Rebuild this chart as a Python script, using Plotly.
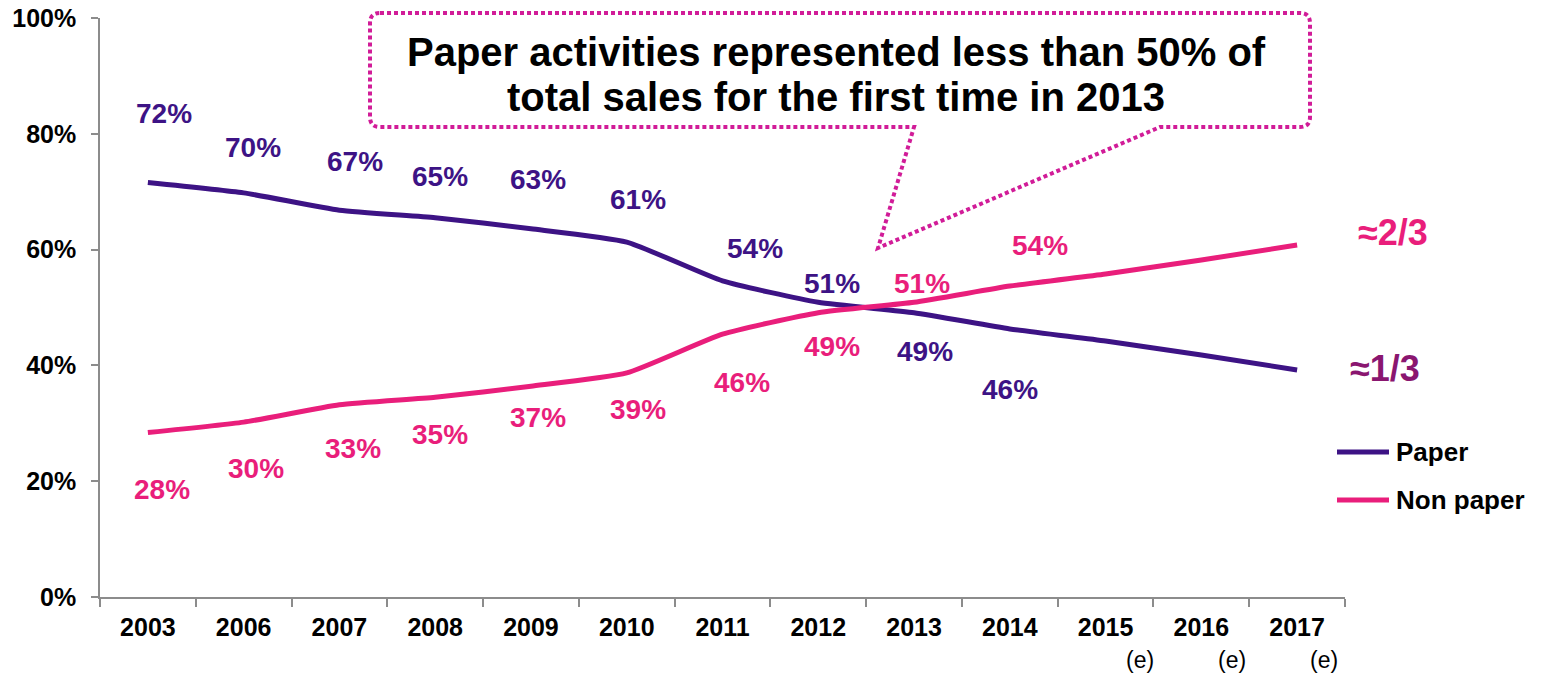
import plotly.graph_objects as go

# ---------------- data ----------------
years = ["2003", "2006", "2007", "2008", "2009", "2010", "2011",
         "2012", "2013", "2014", "2015", "2016", "2017"]
paper = [71.6, 69.8, 66.8, 65.5, 63.6, 61.3, 54.6, 50.9, 49.1, 46.3, 44.2, 41.8, 39.2]
non_paper = [28.4, 30.2, 33.2, 34.5, 36.4, 38.7, 45.4, 49.1, 50.9, 53.7, 55.8, 58.2, 60.8]
paper_labels = ["72%", "70%", "67%", "65%", "63%", "61%", "54%", "51%", "49%", "46%", "", "", ""]
non_paper_labels = ["28%", "30%", "33%", "35%", "37%", "39%", "46%", "49%", "51%", "54%", "", "", ""]
estimate_years = ["2015", "2016", "2017"]
series_names = ["Paper", "Non paper"]
callout_lines = ["Paper activities represented less than 50% of",
                 "total sales for the first time in 2013"]
share_paper_text = "≈1/3"
share_non_paper_text = "≈2/3"

# ---------------- style ----------------
PAPER_C = "#3D1385"
NONPAPER_C = "#E91E7B"
THIRD_C = "#8A1670"
CALLOUT_C = "#D11C98"
AXIS_C = "#8C8C8C"
FONT = "Liberation Sans"
# label offsets (pixels) relative to their point
paper_dx = [16, 9, 16, 5, 7, 11, 32, 14, 11, 0, 0, 0, 0]
paper_dy = [69, 45, 49, 41, 49, 43, 32, 19, -39, -61, 0, 0, 0]
non_dx = [14, 12, 14, 5, 7, 11, 19, 14, 8, 30, 0, 0, 0]
non_dy = [-57, -46, -44, -37, -31, -37, -48, -34, 19, 41, 0, 0, 0]
est_dx = [34, 31, 27]

W, H = 1549, 677
ML, MR, MT, MB = 100, 204, 18, 80
PW, PH = W - ML - MR, H - MT - MB


def px(x):
    return (x - ML) / PW


def py(y):
    return (H - MB - y) / PH


fig = go.Figure()
fig.add_trace(go.Scatter(x=years, y=paper, mode="lines", name=series_names[0],
                         line=dict(color=PAPER_C, width=5, shape="spline", smoothing=0.5),
                         hoverinfo="skip", showlegend=False))
fig.add_trace(go.Scatter(x=years, y=non_paper, mode="lines", name=series_names[1],
                         line=dict(color=NONPAPER_C, width=5, shape="spline", smoothing=0.5),
                         hoverinfo="skip", showlegend=False))

annotations = []
for i, yr in enumerate(years):
    if paper_labels[i]:
        annotations.append(dict(x=i, y=paper[i], xref="x", yref="y", text=paper_labels[i],
                                showarrow=False, xshift=paper_dx[i], yshift=paper_dy[i],
                                xanchor="center", yanchor="middle",
                                font=dict(family=FONT, size=28, color=PAPER_C, weight="bold")))
    if non_paper_labels[i]:
        annotations.append(dict(x=i, y=non_paper[i], xref="x", yref="y", text=non_paper_labels[i],
                                showarrow=False, xshift=non_dx[i], yshift=non_dy[i],
                                xanchor="center", yanchor="middle",
                                font=dict(family=FONT, size=28, color=NONPAPER_C, weight="bold")))

for k, yr in enumerate(estimate_years):
    annotations.append(dict(x=years.index(yr), y=py(660), xref="x", yref="paper", text="(e)",
                            showarrow=False, xshift=est_dx[k], xanchor="center", yanchor="middle",
                            font=dict(family=FONT, size=23, color="black")))

annotations.append(dict(x=px(1393), y=py(232), xref="paper", yref="paper",
                        text=share_non_paper_text, showarrow=False,
                        xanchor="center", yanchor="middle",
                        font=dict(family=FONT, size=36, color=NONPAPER_C, weight="bold")))
annotations.append(dict(x=px(1385), y=py(369), xref="paper", yref="paper",
                        text=share_paper_text, showarrow=False,
                        xanchor="center", yanchor="middle",
                        font=dict(family=FONT, size=36, color=THIRD_C, weight="bold")))
for line_text, yy in zip(callout_lines, [52, 97]):
    annotations.append(dict(x=px(836), y=py(yy), xref="paper", yref="paper",
                            text=line_text, showarrow=False, xanchor="center", yanchor="middle",
                            font=dict(family=FONT, size=40, color="black", weight="bold")))

# manual legend
legend_rows = [(series_names[0], PAPER_C, 452), (series_names[1], NONPAPER_C, 500)]
shapes = []
for name, col, yy in legend_rows:
    shapes.append(dict(type="line", xref="paper", yref="paper", x0=px(1337), x1=px(1389),
                       y0=py(yy), y1=py(yy), line=dict(color=col, width=5)))
    annotations.append(dict(x=px(1394), y=py(yy), xref="paper", yref="paper", text=name,
                            showarrow=False, xanchor="left", yanchor="middle",
                            font=dict(family=FONT, size=26, color="black", weight="bold")))

# callout path in pixel coordinates converted to paper
L, R, T, B, r = 370, 1310, 13, 127, 10
pts = [
    ("M", (L + r, T)), ("L", (R - r, T)), ("Q", (R, T), (R, T + r)),
    ("L", (R, B - r)), ("Q", (R, B), (R - r, B)), ("L", (1160, B)),
    ("L", (878, 248)), ("L", (914, B)), ("L", (L + r, B)),
    ("Q", (L, B), (L, B - r)), ("L", (L, T + r)), ("Q", (L, T), (L + r, T)),
]
path = ""
for item in pts:
    cmd = item[0]
    coords = " ".join(f"{px(a):.5f},{py(b):.5f}" for a, b in item[1:])
    path += f"{cmd} {coords} "
path += "Z"
shapes.append(dict(type="path", path=path, xref="paper", yref="paper",
                   line=dict(color=CALLOUT_C, width=4, dash="4px,3px"),
                   fillcolor="rgba(0,0,0,0)"))

fig.update_layout(
    width=W, height=H,
    margin=dict(l=ML, r=MR, t=MT, b=MB, autoexpand=False),
    plot_bgcolor="white", paper_bgcolor="white",
    font=dict(family=FONT, color="black"),
    xaxis=dict(type="category", range=[-0.5, len(years) - 0.5], showgrid=False, showline=True,
               linecolor=AXIS_C, linewidth=1.5,
               ticks="outside", tickson="boundaries", ticklen=8, tickcolor=AXIS_C, tickwidth=1.5,
               tickfont=dict(family=FONT, size=25, color="black", weight="bold"),
               ticklabelstandoff=7, fixedrange=True, tickangle=0),
    yaxis=dict(range=[0, 100], dtick=20, ticksuffix="%", showgrid=False, zeroline=False,
               showline=True, linecolor=AXIS_C, linewidth=1.5, ticks="outside", ticklen=7,
               tickcolor=AXIS_C, tickwidth=1.5,
               tickfont=dict(family=FONT, size=25, color="black", weight="bold"),
               ticklabelstandoff=10, fixedrange=True),
    shapes=shapes,
    annotations=annotations,
    showlegend=False,
)

fig.write_html("out.html")
